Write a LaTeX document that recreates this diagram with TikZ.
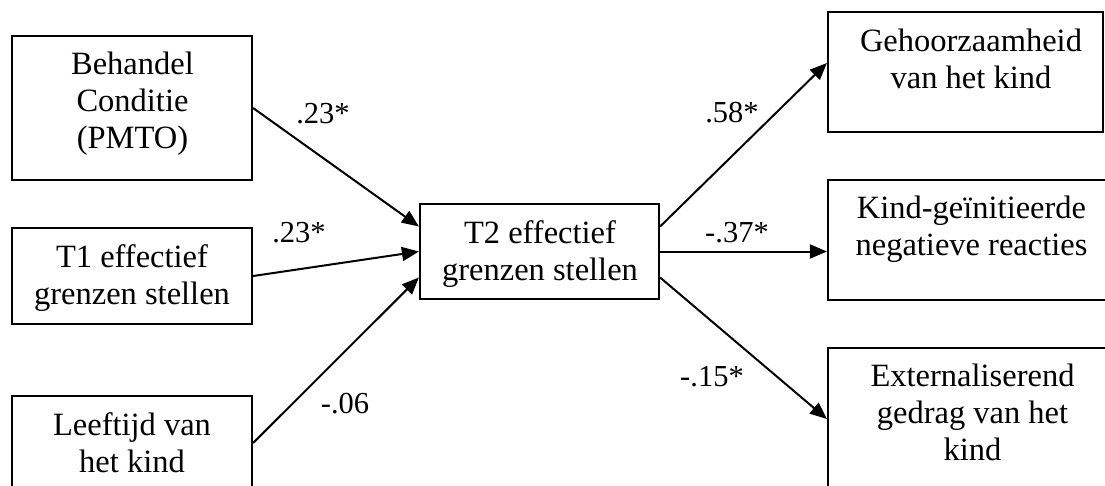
\documentclass[tikz,border=0pt]{standalone}
\usepackage{fontspec}
\setmainfont{Liberation Serif}
\usetikzlibrary{arrows.meta,calc}
\begin{document}
\begin{tikzpicture}[x=1pt,y=-1pt,
  box/.style={draw,line width=2.2pt,inner sep=0pt,rectangle},
  txt/.style={align=center,inner sep=0pt,font=\fontsize{32.5}{37}\selectfont},
  lab/.style={inner sep=0pt,font=\fontsize{30.5}{34}\selectfont},
  arr/.style={line width=2pt,-{Triangle[length=17pt,width=14pt]}}]
\useasboundingbox (0,0) rectangle (1105,485);
\clip (0,0) rectangle (1105,485);
% boxes
\node[box,minimum width=240pt,minimum height=144pt] (b1) at (132,108) {};
\node[box,minimum width=240pt,minimum height=96pt] (t1) at (132,276) {};
\node[box,minimum width=240pt,minimum height=94pt] (b3) at (132,443) {};
\node[box,minimum width=239pt,minimum height=95pt] (t2) at (539.5,251.5) {};
\node[box,minimum width=275pt,minimum height=120pt] (geh) at (965.5,72) {};
\node[box,minimum width=280pt,minimum height=120pt] (kind) at (968,240) {};
\node[box,minimum width=280pt,minimum height=142pt] (ext) at (968,419) {};
% texts
\node[txt] (b1t) at (132.5,104) {Behandel\\Conditie\\(PMTO)};
\node[txt] (t1t) at (132,278) {T1 effectief\\grenzen stellen};
\node[txt] (b3t) at (132,442.5) {Leeftijd van\\het kind};
\node[txt] (t2t) at (540,254.5) {T2 effectief\\grenzen stellen};
\node[txt] (geht) at (971,59) {Gehoorzaamheid\\van het kind};
\node[txt] (kindt) at (971.5,229.5) {Kind-geïnitieerde\\negatieve reacties};
\node[txt] (extt) at (972.5,412.5) {Externaliserend\\gedrag van het\\kind};
% arrows
\draw[arr] (b1.east) -- ([yshift=25pt]t2.west);
\draw[arr] (t1.east) -- (t2.west);
\draw[arr] (b3.east) -- ([yshift=-26pt]t2.west);
\draw[arr] ([yshift=25pt]t2.east) -- ([yshift=9pt]geh.west);
\draw[arr] (t2.east) -- (t2.east -| kind.west);
\draw[arr] ([yshift=-26pt]t2.east) -- (ext.west);
% labels
\node[lab] (l1) at (323,114) {.23*};
\node[lab] (l2) at (299,233) {.23*};
\node[lab] (l3) at (345,404) {-.06};
\node[lab] (l4) at (732,113) {.58*};
\node[lab] (l5) at (737,233) {-.37*};
\node[lab] (l6) at (712,377) {-.15*};
\end{tikzpicture}
\end{document}
